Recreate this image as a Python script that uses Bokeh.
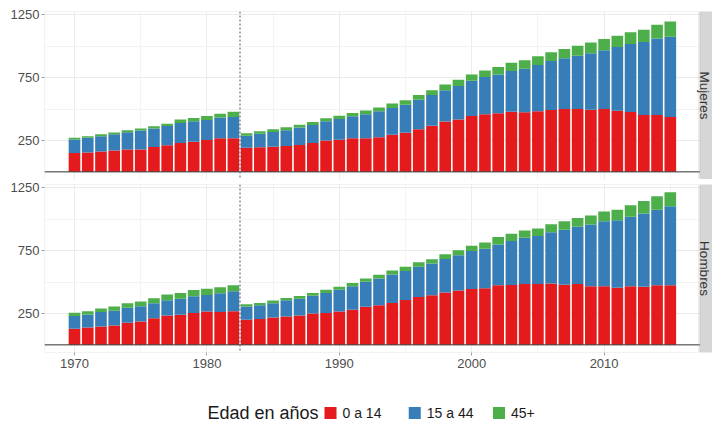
import math
from bokeh.plotting import figure
from bokeh.models import (ColumnDataSource, Range1d, FixedTicker, Span,
                          BoxAnnotation, Label)
from bokeh.core.properties import value
from bokeh.layouts import column
from bokeh.embed import file_html
from bokeh.resources import INLINE

# ---------------- data ----------------
years = list(range(1970, 2016))

muj_0_14 = [150, 155, 163, 171, 179, 179, 197, 211, 229, 239,
            253, 268, 268, 192, 195, 200, 205, 213, 229, 250,
            255, 268, 268, 276, 295, 311, 339, 368, 400, 416,
            445, 458, 466, 479, 474, 482, 492, 500, 500, 495,
            500, 487, 476, 453, 453, 437]
muj_15_44 = [108, 116, 121, 129, 137, 150, 148, 155, 160, 164,
             160, 164, 169, 95, 108, 118, 127, 140, 145, 153,
             166, 174, 190, 206, 213, 223, 235, 243, 250, 268,
             281, 297, 310, 324, 347, 368, 390, 405, 424, 450,
             468, 508, 542, 581, 608, 639]
muj_45 = [13, 13, 16, 13, 16, 16, 18, 18, 27, 26,
          32, 31, 42, 21, 21, 21, 23, 23, 23, 23,
          26, 26, 31, 31, 37, 37, 37, 39, 45, 50,
          50, 53, 58, 65, 68, 71, 71, 74, 81, 84,
          90, 89, 93, 98, 110, 121]

hom_0_14 = [129, 139, 147, 155, 176, 187, 211, 234, 239, 253,
            266, 261, 268, 200, 205, 218, 226, 234, 250, 253,
            266, 279, 303, 316, 334, 358, 382, 395, 416, 432,
            445, 450, 474, 476, 484, 484, 489, 479, 484, 466,
            466, 455, 466, 463, 474, 474]
hom_15_44 = [100, 103, 114, 116, 119, 121, 121, 121, 129, 134,
             131, 150, 158, 105, 111, 114, 129, 134, 142, 160,
             173, 187, 200, 213, 227, 231, 239, 252, 268, 281,
             302, 316, 326, 350, 369, 382, 408, 437, 458, 492,
             518, 537, 555, 582, 602, 629]
hom_45 = [26, 26, 28, 34, 37, 37, 39, 45, 45, 50,
          50, 47, 48, 19, 18, 21, 19, 21, 21, 26,
          24, 26, 26, 29, 31, 32, 37, 35, 37, 40,
          42, 50, 58, 58, 58, 60, 64, 68, 69, 71,
          77, 84, 90, 100, 108, 113]

panels = ["Mujeres", "Hombres"]
groups = ["0 a 14", "15 a 44", "45+"]
colors = ["#E41A1C", "#377EB8", "#4DAF4A"]
x_ticks = [1970, 1980, 1990, 2000, 2010]
x_minor = [1965, 1975, 1985, 1995, 2005, 2015]
y_ticks = [250, 750, 1250]
y_minor = [0, 500, 1000]
break_year = 1982.5
legend_title = "Edad en años"

# ---------------- geometry ----------------
FONT = "Liberation Sans"
W = 712
MBL = 44                      # frame left edge (px)
PX_YEAR = 13.24
x0 = 1970 - (74 - MBL) / PX_YEAR
x1 = x0 + (W - MBL) / PX_YEAR
panel_end = x0 + (698.3 - MBL) / PX_YEAR
strip_start = x0 + (699.5 - MBL) / PX_YEAR
strip_text_x = x0 + (704 - MBL) / PX_YEAR
y0, y1 = -60.8, 1276.8

GRID_MAJ = "#EBEBEB"
GRID_MIN = "#F3F3F3"
BORDER = "#ABABAB"


def make_panel(name, r, b, g, height, mbt, mbb, show_x):
    p = figure(width=W, height=height, output_backend="svg",
               toolbar_location=None,
               x_range=Range1d(x0, x1), y_range=Range1d(y0, y1),
               x_axis_location="below" if show_x else None,
               min_border_left=MBL, min_border_right=0,
               min_border_top=mbt, min_border_bottom=mbb)
    p.outline_line_color = None
    p.background_fill_color = "white"
    p.border_fill_color = "white"

    src = ColumnDataSource(dict(year=years, a=r, b=b, c=g))
    p.vbar_stack(["a", "b", "c"], x="year", width=0.88, color=colors,
                 line_color=None, source=src)

    p.yaxis.ticker = FixedTicker(ticks=y_ticks, minor_ticks=y_minor)
    if show_x:
        p.xaxis.ticker = FixedTicker(ticks=x_ticks, minor_ticks=x_minor)
    else:
        p.xgrid.ticker = FixedTicker(ticks=x_ticks, minor_ticks=x_minor)
    for grid in (p.xgrid, p.ygrid):
        grid.grid_line_color = GRID_MAJ
        grid.grid_line_width = 1
        grid.minor_grid_line_color = GRID_MIN
        grid.minor_grid_line_width = 1

    axes = list(p.yaxis) + (list(p.xaxis) if show_x else [])
    for ax in axes:
        ax.axis_line_color = None
        ax.major_tick_line_color = "#A0A0A0"
        ax.major_tick_out = 3
        ax.major_tick_in = 0
        ax.minor_tick_line_color = None
        ax.major_label_text_font = FONT
        ax.major_label_text_font_size = "13px"
        ax.major_label_text_color = "#4D4D4D"
    p.yaxis.major_label_standoff = 1
    if show_x:
        p.xaxis.major_label_standoff = 2

    p.add_layout(Span(location=0, dimension="width", line_color="#333333",
                      line_width=1))
    p.add_layout(Span(location=break_year, dimension="height",
                      line_color="#555555", line_width=1, line_dash="2 2"))
    p.add_layout(BoxAnnotation(left=x0, right=panel_end, bottom=y0, top=y1,
                               fill_alpha=0, line_color=BORDER, line_width=1.2))
    p.add_layout(BoxAnnotation(left=strip_start, right=x1 + 2, bottom=y0, top=y1,
                               fill_color="#D6D6D6", fill_alpha=1,
                               line_color=BORDER, line_width=1.2))
    p.add_layout(Label(x=strip_text_x, y=(y0 + y1) / 2, text=name,
                       angle=-math.pi / 2, text_align="center",
                       text_baseline="middle", text_font=FONT,
                       text_font_size="13.5px", text_color="#333333"))
    return p


p1 = make_panel(panels[0], muj_0_14, muj_15_44, muj_45, 179, 11, 0, False)
p2 = make_panel(panels[1], hom_0_14, hom_15_44, hom_45, 199, 5, 26, True)

# ---------------- legend row (data units = page pixels) ----------------
LEG_H = 423 - 179 - 199
pl = figure(width=W, height=LEG_H, output_backend="svg", toolbar_location=None,
            x_range=Range1d(MBL, W), y_range=Range1d(0, LEG_H),
            x_axis_location=None, y_axis_location=None,
            min_border_left=MBL, min_border_right=0,
            min_border_top=0, min_border_bottom=0)
pl.outline_line_color = None
pl.xgrid.visible = False
pl.ygrid.visible = False

row_y = 423 - 412.5
key_x = [330 + i * 84.25 for i in range(len(groups))]
leg_src = ColumnDataSource(dict(
    label=groups, color=colors, kx=key_x,
    tx=[k + 12 for k in key_x], ky=[row_y] * len(groups)))
pl.rect(x="kx", y="ky", width=12, height=12, fill_color="color",
        line_color=None, source=leg_src)
pl.text(x="tx", y="ky", text="label", source=leg_src,
        text_font=value(FONT), text_font_size=value("14px"),
        text_baseline="middle", text_align="left", text_color="#1A1A1A")
pl.text(x=[262.5], y=[row_y], text=[legend_title],
        text_font=value(FONT), text_font_size=value("18px"),
        text_baseline="middle", text_align="center", text_color="#1A1A1A")

layout = column(p1, p2, pl)
open("out.html", "w").write(file_html(layout, INLINE))
